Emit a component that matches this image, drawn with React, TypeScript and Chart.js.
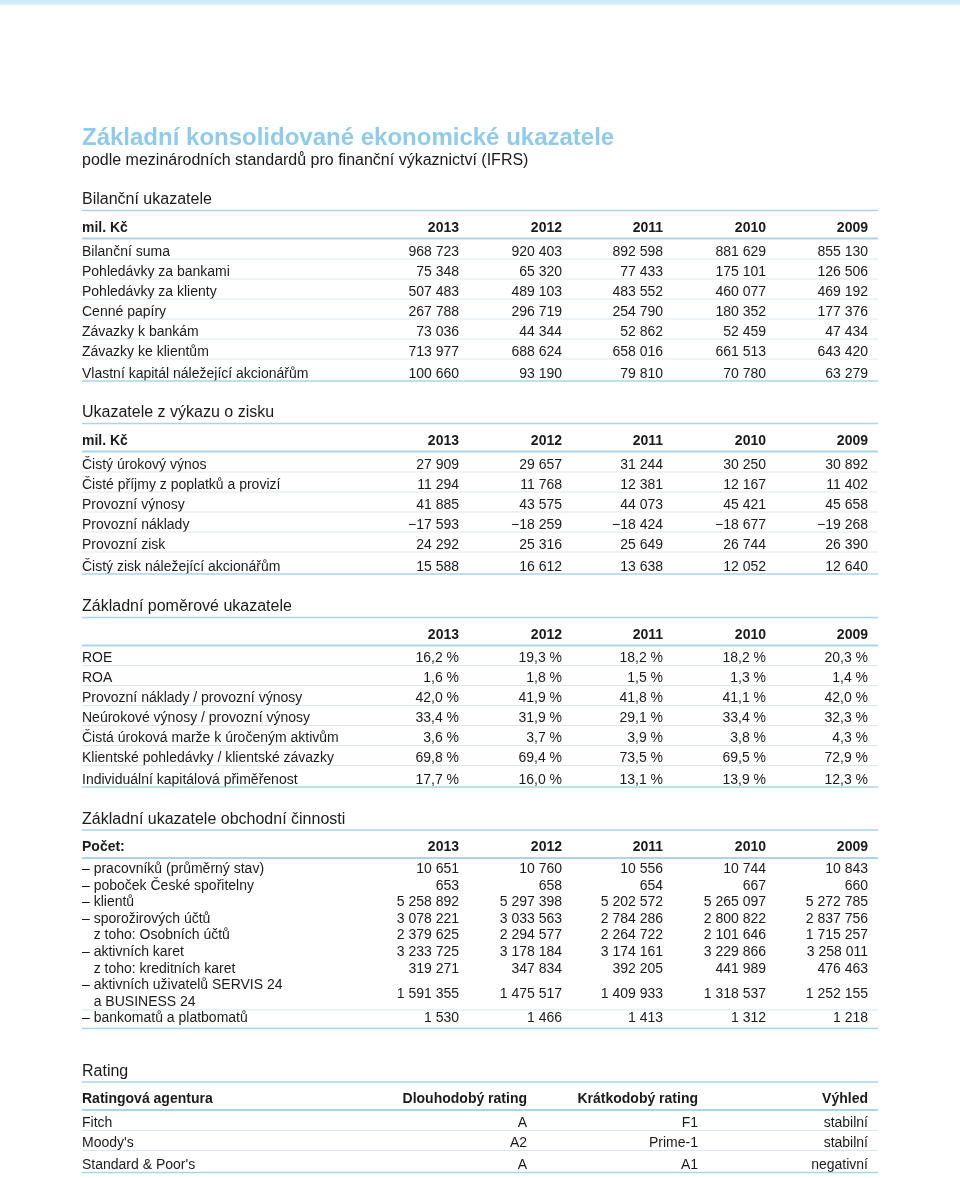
import React, { useEffect, useRef } from 'react';
import { Chart, registerables } from 'chart.js';

Chart.register(...registerables);

// ---------------- DATA ----------------
const pageTitle = 'Základní konsolidované ekonomické ukazatele';
const pageSubtitle = 'podle mezinárodních standardů pro finanční výkaznictví (IFRS)';
const years = ['2013', '2012', '2011', '2010', '2009'];

const balanceTitle = 'Bilanční ukazatele';
const balanceUnit = 'mil. Kč';
const balanceLabels = [
  'Bilanční suma',
  'Pohledávky za bankami',
  'Pohledávky za klienty',
  'Cenné papíry',
  'Závazky k bankám',
  'Závazky ke klientům',
  'Vlastní kapitál náležející akcionářům',
];
const balanceValues = [
  [968723, 920403, 892598, 881629, 855130],
  [75348, 65320, 77433, 175101, 126506],
  [507483, 489103, 483552, 460077, 469192],
  [267788, 296719, 254790, 180352, 177376],
  [73036, 44344, 52862, 52459, 47434],
  [713977, 688624, 658016, 661513, 643420],
  [100660, 93190, 79810, 70780, 63279],
];

const incomeTitle = 'Ukazatele z výkazu o zisku';
const incomeUnit = 'mil. Kč';
const incomeLabels = [
  'Čistý úrokový výnos',
  'Čisté příjmy z poplatků a provizí',
  'Provozní výnosy',
  'Provozní náklady',
  'Provozní zisk',
  'Čistý zisk náležející akcionářům',
];
const incomeValues = [
  [27909, 29657, 31244, 30250, 30892],
  [11294, 11768, 12381, 12167, 11402],
  [41885, 43575, 44073, 45421, 45658],
  [-17593, -18259, -18424, -18677, -19268],
  [24292, 25316, 25649, 26744, 26390],
  [15588, 16612, 13638, 12052, 12640],
];

const ratioTitle = 'Základní poměrové ukazatele';
const ratioUnit = '';
const ratioLabels = [
  'ROE',
  'ROA',
  'Provozní náklady / provozní výnosy',
  'Neúrokové výnosy / provozní výnosy',
  'Čistá úroková marže k úročeným aktivům',
  'Klientské pohledávky / klientské závazky',
  'Individuální kapitálová přiměřenost',
];
const ratioValues = [
  [16.2, 19.3, 18.2, 18.2, 20.3],
  [1.6, 1.8, 1.5, 1.3, 1.4],
  [42.0, 41.9, 41.8, 41.1, 42.0],
  [33.4, 31.9, 29.1, 33.4, 32.3],
  [3.6, 3.7, 3.9, 3.8, 4.3],
  [69.8, 69.4, 73.5, 69.5, 72.9],
  [17.7, 16.0, 13.1, 13.9, 12.3],
];

const businessTitle = 'Základní ukazatele obchodní činnosti';
const businessUnit = 'Počet:';
const businessLabels = [
  '– pracovníků (průměrný stav)',
  '– poboček České spořitelny',
  '– klientů',
  '– sporožirových účtů',
  '  z toho: Osobních účtů',
  '– aktivních karet',
  '  z toho: kreditních karet',
  '– aktivních uživatelů SERVIS 24\n  a BUSINESS 24',
  '– bankomatů a platbomatů',
];
const businessValues = [
  [10651, 10760, 10556, 10744, 10843],
  [653, 658, 654, 667, 660],
  [5258892, 5297398, 5202572, 5265097, 5272785],
  [3078221, 3033563, 2784286, 2800822, 2837756],
  [2379625, 2294577, 2264722, 2101646, 1715257],
  [3233725, 3178184, 3174161, 3229866, 3258011],
  [319271, 347834, 392205, 441989, 476463],
  [1591355, 1475517, 1409933, 1318537, 1252155],
  [1530, 1466, 1413, 1312, 1218],
];

const ratingTitle = 'Rating';
const ratingHeaders = ['Ratingová agentura', 'Dlouhodobý rating', 'Krátkodobý rating', 'Výhled'];
const ratingAgencies = ['Fitch', "Moody's", "Standard & Poor's"];
const ratingLong = ['A', 'A2', 'A'];
const ratingShort = ['F1', 'Prime-1', 'A1'];
const ratingOutlook = ['stabilní', 'stabilní', 'negativní'];

// ---------------- LAYOUT / STYLE ----------------
const W = 960;
const H = 1178;
const LEFT = 82;
const RIGHT = 878;
const YEAR_COLS = [459, 562, 663, 766, 868];
const RATING_COLS = [527, 698, 868];
const FONT = "'Liberation Sans', Arial, Helvetica, sans-serif";
const TEXT = '#1b1b1b';
const TITLE_BLUE = '#8fcbec';
const RULE_BLUE = '#a9d5ec';
const RULE_LIGHT = '#dbe7ee';

const fmtInt = (v: number) =>
  (v < 0 ? '−' : '') + Math.abs(v).toString().replace(/\B(?=(\d{3})+(?!\d))/g, ' ');
const fmtPct = (v: number) => v.toFixed(1).replace('.', ',') + ' %';

type Section = {
  title: string;
  unit: string;
  labels: string[];
  cells: string[][];
  top: number; // baseline of section title
  firstOffset: number;
  pitch: number;
  lastExtra: number;
  separators: 'all' | 'last';
  headers?: string[];
  cols: number[];
};

const sections: Section[] = [
  {
    title: balanceTitle, unit: balanceUnit, labels: balanceLabels,
    cells: balanceValues.map((r) => r.map(fmtInt)),
    top: 204, firstOffset: 51.5, pitch: 20, lastExtra: 2, separators: 'all',
    headers: years, cols: YEAR_COLS,
  },
  {
    title: incomeTitle, unit: incomeUnit, labels: incomeLabels,
    cells: incomeValues.map((r) => r.map(fmtInt)),
    top: 417, firstOffset: 51.5, pitch: 20, lastExtra: 2, separators: 'all',
    headers: years, cols: YEAR_COLS,
  },
  {
    title: ratioTitle, unit: ratioUnit, labels: ratioLabels,
    cells: ratioValues.map((r) => r.map(fmtPct)),
    top: 611, firstOffset: 51, pitch: 20, lastExtra: 1.5, separators: 'all',
    headers: years, cols: YEAR_COLS,
  },
  {
    title: businessTitle, unit: businessUnit, labels: businessLabels,
    cells: businessValues.map((r) => r.map(fmtInt)),
    top: 823.5, firstOffset: 49.5, pitch: 16.6, lastExtra: 0, separators: 'last',
    headers: years, cols: YEAR_COLS,
  },
  {
    title: ratingTitle, unit: ratingHeaders[0], labels: ratingAgencies,
    cells: ratingAgencies.map((_, i) => [ratingLong[i], ratingShort[i], ratingOutlook[i]]),
    top: 1075.5, firstOffset: 51.5, pitch: 20, lastExtra: 2, separators: 'all',
    headers: ratingHeaders.slice(1), cols: RATING_COLS,
  },
];

const tablePlugin = {
  id: 'tablePlugin',
  afterDraw(chart: any) {
    const ctx: CanvasRenderingContext2D = chart.ctx;
    const xs = chart.scales.x;
    const ys = chart.scales.y;
    const X = (v: number) => xs.getPixelForValue(v);
    const Y = (v: number) => ys.getPixelForValue(v);

    const rule = (y: number, t: number, color: string) => {
      ctx.fillStyle = color;
      ctx.fillRect(X(LEFT), Y(y) - t / 2, X(RIGHT) - X(LEFT), t);
    };
    const text = (s: string, x: number, y: number, font: string, align: CanvasTextAlign, color = TEXT) => {
      ctx.font = font;
      ctx.fillStyle = color;
      ctx.textAlign = align;
      ctx.textBaseline = 'alphabetic';
      ctx.fillText(s, X(x), Y(y));
    };

    ctx.save();
    // top band
    const g = ctx.createLinearGradient(0, Y(0), 0, Y(7));
    g.addColorStop(0, '#cfeaf8');
    g.addColorStop(0.6, '#d6eef9');
    g.addColorStop(1, 'rgba(255,255,255,0)');
    ctx.fillStyle = g;
    ctx.fillRect(X(0), Y(0), X(W) - X(0), Y(7) - Y(0));

    text(pageTitle, LEFT, 145, `bold 24px ${FONT}`, 'left', TITLE_BLUE);
    text(pageSubtitle, LEFT, 165, `16px ${FONT}`, 'left');

    const normal = `14px ${FONT}`;
    const bold = `bold 14px ${FONT}`;

    sections.forEach((s) => {
      text(s.title, LEFT, s.top, `16px ${FONT}`, 'left');
      rule(s.top + 6.5, 1.5, RULE_BLUE);
      const hb = s.top + 27.5;
      if (s.unit) text(s.unit, LEFT, hb, bold, 'left');
      (s.headers || []).forEach((h, i) => text(h, s.cols[i], hb, bold, 'right'));
      rule(s.top + 34.5, 2, RULE_BLUE);

      let line = 0;
      const first = s.top + s.firstOffset;
      const n = s.labels.length;
      let lastBase = first;
      s.labels.forEach((lab, r) => {
        const parts = lab.split('\n');
        const isLast = r === n - 1;
        const base0 = first + line * s.pitch + (isLast ? s.lastExtra : 0);
        if (s.separators === 'last' && isLast) {
          rule(base0 - 12.5, 1, RULE_LIGHT);
        }
        parts.forEach((p, k) => {
          const by = base0 + k * s.pitch;
          if (p.startsWith('  ')) {
            ctx.font = normal;
            const ind = ctx.measureText('– ').width;
            text(p.trim(), LEFT + ind, by, normal, 'left');
          } else {
            text(p, LEFT, by, normal, 'left');
          }
        });
        const cy = base0 + ((parts.length - 1) * s.pitch) / 2;
        s.cells[r].forEach((c, i) => text(c, s.cols[i], cy, normal, 'right'));
        const endBase = base0 + (parts.length - 1) * s.pitch;
        if (s.separators === 'all' && !isLast) rule(endBase + 3.5, 1, RULE_LIGHT);
        lastBase = endBase;
        line += parts.length;
      });
      rule(lastBase + (s.separators === 'last' ? 6 : 3.5), 1.5, RULE_BLUE);
    });
    ctx.restore();
  },
};

export default function App() {
  const ref = useRef<HTMLCanvasElement | null>(null);
  useEffect(() => {
    if (!ref.current) return;
    const chart = new Chart(ref.current, {
      type: 'scatter',
      data: { datasets: [{ data: [], pointRadius: 0 }] },
      options: {
        responsive: false,
        animation: false,
        events: [],
        layout: { padding: 0 },
        plugins: { legend: { display: false }, tooltip: { enabled: false } },
        scales: {
          x: { type: 'linear', min: 0, max: W, display: false },
          y: { type: 'linear', min: 0, max: H, reverse: true, display: false },
        },
      },
      plugins: [tablePlugin],
    } as any);
    return () => chart.destroy();
  }, []);
  return (
    <div style={{ position: 'absolute', left: 0, top: 0, width: W, height: H, background: '#fff' }}>
      <canvas ref={ref} width={W} height={H} style={{ display: 'block' }} />
    </div>
  );
}
